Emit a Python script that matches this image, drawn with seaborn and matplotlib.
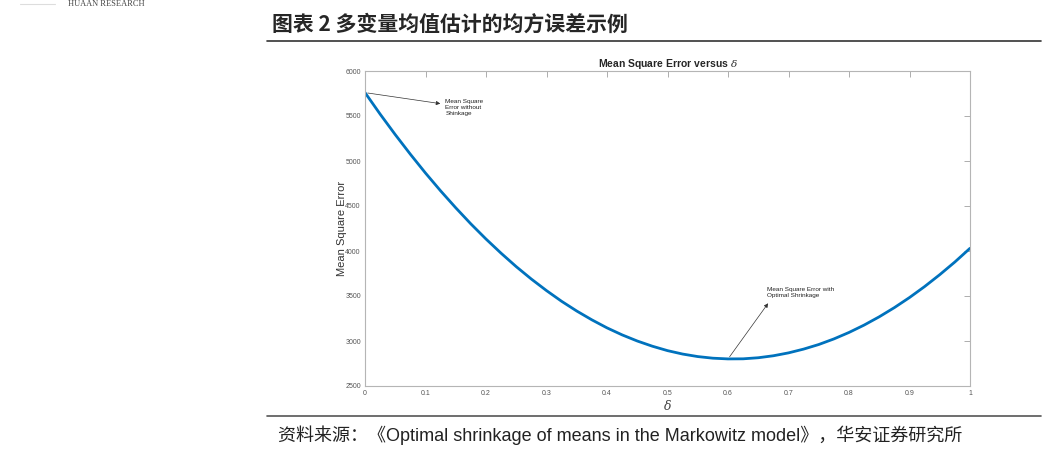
import matplotlib
matplotlib.use("Agg")
import matplotlib.pyplot as plt
import seaborn as sns
import pandas as pd

# values
delta = [0.0, 0.025, 0.05, 0.075, 0.1, 0.125, 0.15, 0.175, 0.2, 0.225,
         0.25, 0.275, 0.3, 0.325, 0.35, 0.375, 0.4, 0.425, 0.45, 0.475,
         0.5, 0.525, 0.55, 0.575, 0.6, 0.625, 0.65, 0.675, 0.7, 0.725,
         0.75, 0.775, 0.8, 0.825, 0.85, 0.875, 0.9, 0.925, 0.95, 0.975, 1.0]
mse = [5760, 5521, 5293, 5075, 4866, 4668, 4480, 4301, 4133, 3975,
       3826, 3688, 3560, 3441, 3333, 3235, 3146, 3068, 3000, 2942,
       2893, 2855, 2827, 2809, 2801, 2802, 2814, 2836, 2868, 2910,
       2961, 3023, 3095, 3177, 3269, 3371, 3483, 3605, 3737, 3878, 4030]
x_ticks = [0, 0.1, 0.2, 0.3, 0.4, 0.5, 0.6, 0.7, 0.8, 0.9, 1]
x_tick_labels = ["0", "0.1", "0.2", "0.3", "0.4", "0.5", "0.6", "0.7", "0.8", "0.9", "1"]
y_ticks = [2500, 3000, 3500, 4000, 4500, 5000, 5500, 6000]

df = pd.DataFrame({"delta": delta, "mse": mse})

sns.set_style("white")
plt.rcParams['font.family'] = ['Liberation Sans', 'Noto Sans CJK SC', 'DejaVu Sans']
plt.rcParams['mathtext.fontset'] = 'dejavuserif'

fig = plt.figure(figsize=(10.46, 4.49), dpi=100)
ax = fig.add_axes([365/1046, 1-386/449, 605/1046, 315/449])

sns.lineplot(data=df, x="delta", y="mse", color="#0072BD", linewidth=2.0, ax=ax)

ax.set_xlim(0, 1)
ax.set_ylim(2500, 6000)
ax.set_xticks(x_ticks)
ax.set_xticklabels(x_tick_labels)
ax.set_yticks(y_ticks)
ax.tick_params(direction="in", length=4, width=0.6, color="#a0a0a0",
               labelsize=5, labelcolor="#555555", top=True, right=True, pad=3)
for s in ax.spines.values():
    s.set_color("#b5b5b5")
    s.set_linewidth(0.8)

ax.set_title(r"Mean Square Error versus $\delta$", fontsize=7.5, fontweight="bold", pad=3)
ax.set_xlabel(r"$\delta$", fontsize=9, color="#444444", labelpad=1)
ax.set_ylabel("Mean Square Error", fontsize=8, color="#333333", labelpad=-1)

arrow = dict(arrowstyle="-|>", color="#333333", lw=0.5, mutation_scale=6)
ax.annotate("", xy=(0.129, 5633), xytext=(0.0, 5760), arrowprops=arrow)
ax.text(0.133, 5690, "Mean Square\nError without\nShinkage", fontsize=4.6,
        va="top", ha="left", color="#222222", linespacing=1.3)
ax.annotate("", xy=(0.669, 3444), xytext=(0.6, 2800), arrowprops=arrow)
ax.text(0.664, 3600, "Mean Square Error with\nOptimal Shrinkage", fontsize=4.6,
        va="top", ha="left", color="#222222", linespacing=1.3)

# page header / footer from the report
fig.text(68/1046, 1-4/449, "HUAAN RESEARCH", fontsize=6, family=['Liberation Serif'],
         color="#444444", va="center", ha="left")
fig.add_artist(plt.Line2D([20/1046, 55/1046], [1-4/449, 1-4/449], color="#dddddd", lw=0.8))
fig.text(272/1046, 1-24/449, "图表 2 多变量均值估计的均方误差示例", fontsize=15,
         fontweight="bold", family=['Noto Sans CJK SC', 'DejaVu Sans'], va="center", ha="left")
fig.add_artist(plt.Line2D([267/1046, 1041/1046], [1-41/449, 1-41/449], color="#333333", lw=1.2))
fig.add_artist(plt.Line2D([267/1046, 1041/1046], [1-416/449, 1-416/449], color="#555555", lw=1.2))
fig.text(278/1046, 1-435/449,
         "资料来源：《Optimal shrinkage of means in the Markowitz model》，华安证券研究所",
         fontsize=13, family=['Liberation Sans', 'Noto Sans CJK SC', 'DejaVu Sans'],
         color="#222222", va="center", ha="left")

fig.savefig("out.png", dpi=100)
